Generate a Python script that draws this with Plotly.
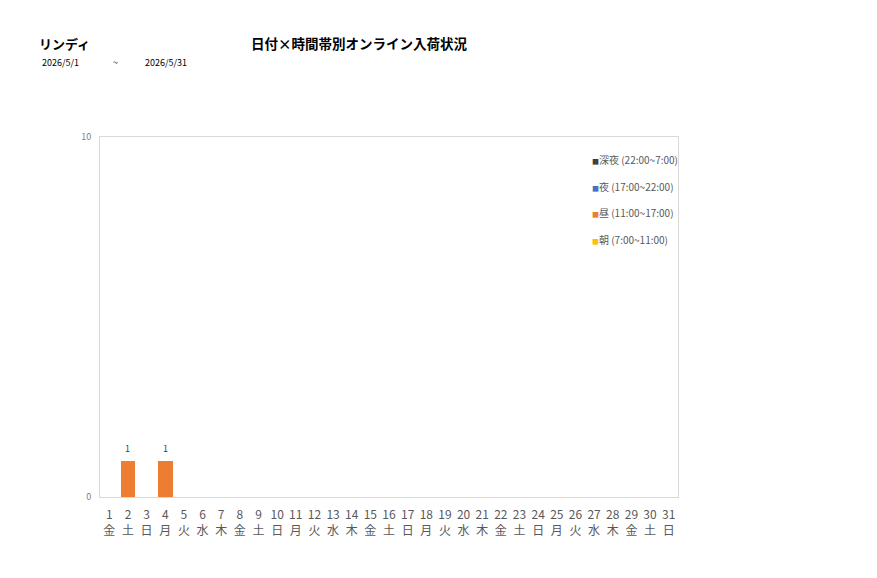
import plotly.graph_objects as go

days = [str(d) for d in range(1, 32)]
weekdays = ["金","土","日","月","火","水","木","金","土","日","月","火","水","木","金","土","日","月","火","水","木","金","土","日","月","火","水","木","金","土","日"]
tick_labels = [f"{d}<br>{w}" for d, w in zip(days, weekdays)]

series_names = ["朝 (7:00~11:00)", "昼 (11:00~17:00)", "夜 (17:00~22:00)", "深夜 (22:00~7:00)"]
series_colors = ["#FFC000", "#ED7D31", "#4472C4", "#404040"]
asa = [0]*31
hiru = [0, 1, 0, 1] + [0]*27
yoru = [0]*31
shinya = [0]*31
series_values = [asa, hiru, yoru, shinya]

FONT = "Noto Sans CJK JP"
W, H = 877, 578
L, R, T, B = 100, 678, 137, 497

def px(x):
    return (x - L) / (R - L)

def py(y):
    return (B - y) / (B - T)

fig = go.Figure()
for name, color, vals in zip(series_names, series_colors, series_values):
    fig.add_trace(go.Bar(x=days, y=vals, name=name, marker=dict(color=color, line=dict(width=0)),
                         showlegend=False))

annotations = [
    dict(text="<b>リンディ</b>", x=px(37), y=py(43), xanchor="left", yanchor="middle",
         font=dict(size=13, color="#000000", family=FONT)),
    dict(text="<b>日付×時間帯別オンライン入荷状況</b>", x=px(249), y=py(43), xanchor="left", yanchor="middle",
         font=dict(size=13.5, color="#000000", family=FONT)),
    dict(text="2026/5/1", x=px(40), y=py(62), xanchor="left", yanchor="middle",
         font=dict(size=9, color="#000000", family=FONT)),
    dict(text="~", x=px(111), y=py(62), xanchor="left", yanchor="middle",
         font=dict(size=9, color="#000000", family=FONT)),
    dict(text="2026/5/31", x=px(143), y=py(62), xanchor="left", yanchor="middle",
         font=dict(size=9, color="#000000", family=FONT)),
]
legend_y = [159, 186, 212, 239]
for i, (name, color) in enumerate(zip(reversed(series_names), reversed(series_colors))):
    annotations.append(dict(
        text=f"<span style='color:{color};font-size:7px'>■</span>{name}",
        x=px(590), y=py(legend_y[i]), xanchor="left", yanchor="middle",
        font=dict(size=10, color="#595959", family=FONT)))
for a in annotations:
    a.update(xref="paper", yref="paper", showarrow=False)

totals = [sum(v) for v in zip(*series_values)]
for i, t in enumerate(totals):
    if t > 0:
        annotations.append(dict(x=i, y=t, xref="x", yref="y", text=str(t), showarrow=False,
                                yanchor="middle", yshift=13,
                                font=dict(size=9, color="#404040", family=FONT)))

fig.update_layout(
    width=W, height=H,
    margin=dict(l=L, r=W - R, t=T, b=H - B, autoexpand=False),
    paper_bgcolor="white", plot_bgcolor="white",
    barmode="stack", bargap=0.2,
    showlegend=False,
    font=dict(family=FONT, color="#595959"),
    annotations=annotations,
    xaxis=dict(type="category", tickmode="array", tickvals=days, ticktext=tick_labels, range=[-0.5, 30.5],
               tickfont=dict(size=12, color="#595959", family=FONT),
               showline=True, linecolor="#D9D9D9", mirror=True, showgrid=False,
               ticks="", ticklabelstandoff=7, fixedrange=True),
    yaxis=dict(range=[0, 10], tickvals=[0, 10], ticktext=["0", "10"],
               tickfont=dict(size=9, color="#7F7F7F", family=FONT),
               showline=True, linecolor="#D9D9D9", mirror=True, showgrid=False,
               zeroline=False, ticks="", ticklabelstandoff=6, fixedrange=True),
)

fig.write_html("out.html")
